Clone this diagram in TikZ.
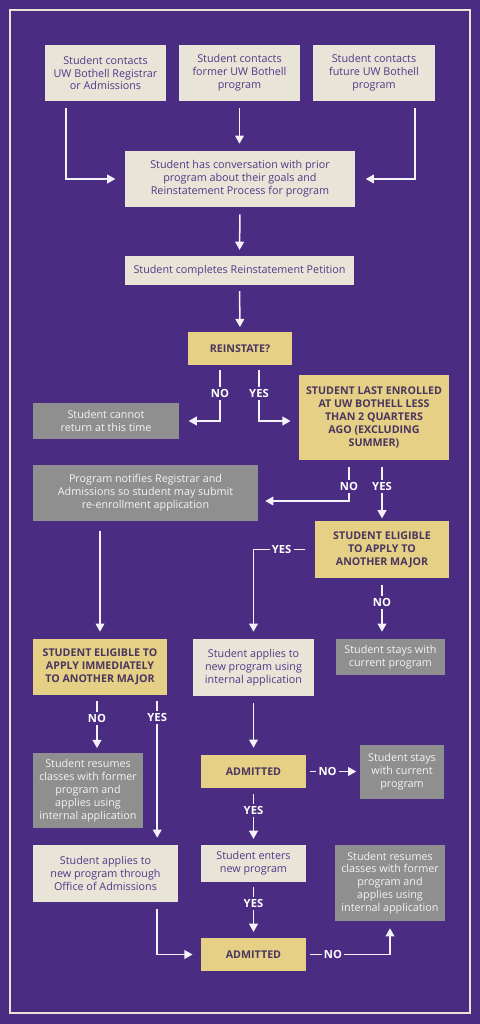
\documentclass[tikz,border=0pt]{standalone}
\usepackage{fontspec}
\setmainfont{Open Sans}
\usetikzlibrary{arrows.meta,calc}
\definecolor{uwPurple}{HTML}{4A2C82}
\definecolor{uwCream}{HTML}{E9E4D8}
\definecolor{uwGold}{HTML}{E5D086}
\definecolor{uwGrey}{HTML}{8F8F8F}
\definecolor{uwInk}{HTML}{4F3A86}
\definecolor{uwDark}{HTML}{4A365E}
\definecolor{uwLine}{HTML}{F4F1F8}

\begin{document}
\begin{tikzpicture}[x=0.03cm,y=-0.03cm,
  every node/.style={font=\fontsize{9.2}{11}\selectfont,align=center,inner sep=0pt},
  sz/.style 2 args={minimum width=#1*0.03cm,minimum height=#2*0.03cm},
  cream/.style={fill=uwCream,text=uwInk},
  gold/.style={fill=uwGold,text=uwDark,font=\fontsize{9.1}{11}\selectfont\bfseries},
  grey/.style={fill=uwGrey,text=white!90!uwGrey},
  flow/.style={draw=uwLine,line width=1.3pt,-{Triangle[length=7pt,width=7.5pt]}},
  tag/.style={fill=uwPurple,text=white,font=\fontsize{9.6}{11}\selectfont\bfseries,inner sep=2pt}]

% background and frame
\fill[uwPurple] (0,0) rectangle (480,1024);
\draw[uwCream,line width=1.3pt] (10,10) rectangle (470,1013);

% contact boxes
\node[cream,sz={121}{56}] (a1) at (105.5,73) {Student contacts\\UW Bothell Registrar\\or Admissions};
\node[cream,sz={121}{56}] (a2) at (239.5,73) {Student contacts\\former UW Bothell\\program};
\node[cream,sz={122}{56}] (a3) at (374,73) {Student contacts\\future UW Bothell\\program};
\node[cream,sz={230}{56}] (conv) at (240,179) {Student has conversation with prior\\program about their goals and\\Reinstatement Process for program};
\node[cream,sz={229}{29}] (petition) at (239.5,270.5) {Student completes Reinstatement Petition};
\node[gold,sz={104}{33}] (reinstate) at (240,348.5) {REINSTATE?};
\node[grey,sz={146}{36}] (cannot) at (106,421) {Student cannot\\return at this time};
\node[gold,sz={150}{85}] (lastenr) at (374,417.5) {STUDENT LAST ENROLLED\\AT UW BOTHELL LESS\\THAN 2 QUARTERS\\AGO (EXCLUDING\\SUMMER)};
\node[grey,sz={225}{56}] (notify) at (145.5,493) {Program notifies Registrar and\\Admissions so student may submit\\re-enrollment application};
\node[gold,sz={134}{57}] (elig) at (382,549.5) {STUDENT ELIGIBLE\\TO APPLY TO\\ANOTHER MAJOR};
\node[cream,sz={121}{57}] (internal) at (253.5,667.5) {Student applies to\\new program using\\internal application};
\node[grey,sz={109}{36}] (stay1) at (390.5,657) {Student stays with\\current program};
\node[gold,sz={134}{56}] (elignow) at (100,667) {STUDENT ELIGIBLE TO\\APPLY IMMEDIATELY\\TO ANOTHER MAJOR};
\node[grey,sz={110}{75}] (resume1) at (88,790.5) {Student resumes\\classes with former\\program and\\applies using\\internal application};
\node[cream,sz={145}{57}] (office) at (105.5,873.5) {Student applies to\\new program through\\Office of Admissions};
\node[gold,sz={105}{33}] (adm1) at (253.5,771.5) {ADMITTED};
\node[grey,sz={84}{54}] (stay2) at (402,772) {Student stays\\with current\\program};
\node[cream,sz={105}{37}] (enters) at (253.5,863.5) {Student enters\\new program};
\node[gold,sz={105}{33}] (adm2) at (253.5,954.5) {ADMITTED};
\node[grey,sz={110}{76}] (resume2) at (390,883) {Student resumes\\classes with former\\program and\\applies using\\internal application};

% connectors
\draw[flow,shorten <=6pt,shorten >=8pt] ($(a1.south west)+(21,0)$) |- (conv.west);
\draw[flow,shorten <=6pt,shorten >=6pt] (a2.south) -- (a2.south |- conv.north);
\draw[flow,shorten <=6pt,shorten >=9pt] ($(a3.south east)+(-20,0)$) |- (conv.east);
\draw[flow,shorten <=6pt,shorten >=5pt] (conv.south) -- (petition.north);
\draw[flow,shorten <=5pt,shorten >=4pt] (petition.south) -- (reinstate.north);
\draw[flow,shorten <=4pt,shorten >=8pt] ($(reinstate.south)+(-20,0)$) |- (cannot.east) node[tag,pos=0.25] {NO};
\draw[flow,shorten <=4pt,shorten >=7pt] ($(reinstate.south)+(19,0)$) |- (lastenr.west |- cannot.east) node[tag,pos=0.25] {YES};
\draw[flow,shorten <=6pt,shorten >=6pt] ($(lastenr.south)+(-25,0)$) |- ($(notify.east)+(0,8)$) node[tag,pos=0.32] {NO};
\draw[flow,shorten <=6pt,shorten >=2pt] ($(lastenr.south)+(8,0)$) -- (elig.north) node[tag,pos=0.43] {YES};
\draw[flow,shorten <=8pt,shorten >=6pt] (elig.west) -| (internal.north) node[tag,pos=0.27] {YES};
\draw[flow,shorten <=6pt,shorten >=6pt] (elig.south) -- (elig.south |- stay1.north) node[tag,pos=0.4] {NO};
\draw[flow,shorten <=8pt,shorten >=6pt] (elignow.north |- notify.south) -- (elignow.north);
\coordinate (lno) at ($(elignow.south)+(-3,0)$);
\coordinate (lyes) at ($(elignow.south east)+(-10,0)$);
\draw[flow,shorten <=5pt,shorten >=4pt] (lno) -- (lno |- resume1.north) node[tag,pos=0.4] {NO};
\draw[flow,shorten <=5pt,shorten >=6pt] (lyes) -- (lyes |- office.north) node[tag,pos=0.15] {YES};
\draw[flow,shorten <=6pt,shorten >=6pt] (internal.south) -- (adm1.north);
\draw[flow,shorten <=3pt,shorten >=3pt] (adm1.east) -- (adm1.east -| stay2.west) node[tag,pos=0.4] {NO};
\draw[flow,shorten <=5pt,shorten >=5pt] (adm1.south) -- (enters.north) node[tag,pos=0.4] {YES};
\draw[flow,shorten <=4pt,shorten >=5pt] (enters.south) -- (adm2.north) node[tag,pos=0.39] {YES};
\draw[flow,shorten <=6pt,shorten >=7pt] ($(office.south east)+(-21,0)$) |- (adm2.west);
\draw[flow,shorten <=3pt,shorten >=6pt] (adm2.east) -| (resume2.south) node[tag,pos=0.16] {NO};
\end{tikzpicture}
\end{document}
